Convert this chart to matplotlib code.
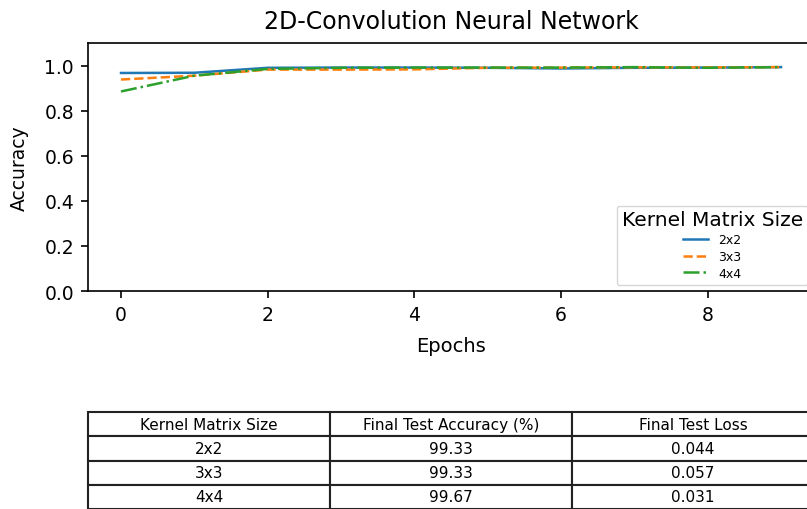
import numpy as np
import matplotlib
matplotlib.use("Agg")
import matplotlib.pyplot as plt

# Datos
epochs = np.arange(10)
acc_2x2 = [0.967, 0.968, 0.990, 0.991, 0.991, 0.990, 0.987, 0.990, 0.991, 0.993]
acc_3x3 = [0.938, 0.955, 0.982, 0.982, 0.983, 0.990, 0.991, 0.992, 0.992, 0.993]
acc_4x4 = [0.885, 0.955, 0.985, 0.990, 0.991, 0.991, 0.991, 0.993, 0.990, 0.993]

col_labels = ["Kernel Matrix Size", "Final Test Accuracy (%)", "Final Test Loss"]
kernel_sizes = ["2x2", "3x3", "4x4"]
final_acc = ["99.33", "99.33", "99.67"]
final_loss = ["0.044", "0.057", "0.031"]

W, H = 807, 510
fig = plt.figure(figsize=(W / 100, H / 100), dpi=100)
# the original figure is cropped on the right, so the axes run past the edge
ax = fig.add_axes([88 / W, (H - 292) / H, (814 - 88) / W, (292 - 44) / H])

ax.plot(epochs, acc_2x2, "-", color="#1f77b4", lw=1.8, label="2x2")
ax.plot(epochs, acc_3x3, "--", color="#ff7f0e", lw=1.8, label="3x3")
ax.plot(epochs, acc_4x4, "-.", color="#2ca02c", lw=1.8, label="4x4")

ax.set_ylim(0, 1.1)
ax.set_xticks([0, 2, 4, 6, 8])
ax.set_yticks([0.0, 0.2, 0.4, 0.6, 0.8, 1.0])
ax.tick_params(labelsize=13.5, width=1.2, length=5)
ax.tick_params(axis="y", pad=5)
ax.tick_params(axis="x", pad=5)
for s in ax.spines.values():
    s.set_linewidth(1.2)
ax.set_xlabel("Epochs", fontsize=14, labelpad=9)
ax.set_ylabel("Accuracy", fontsize=13.5, labelpad=11)
ax.set_title("2D-Convolution Neural Network", fontsize=17, pad=11)

leg = ax.legend(title="Kernel Matrix Size", loc="lower right",
                fontsize=9, title_fontsize=14.5, labelspacing=0.3,
                borderaxespad=0.5)

rows = [[k, a, l] for k, a, l in zip(kernel_sizes, final_acc, final_loss)]
tbl = ax.table(cellText=rows, colLabels=col_labels, cellLoc="center",
               bbox=[0, -0.879, 1, 0.391])
tbl.auto_set_font_size(False)
tbl.set_fontsize(11)
for cell in tbl.get_celld().values():
    cell.set_linewidth(1.5)
    cell.set_edgecolor("#222222")

fig.savefig("out.png", dpi=100)
